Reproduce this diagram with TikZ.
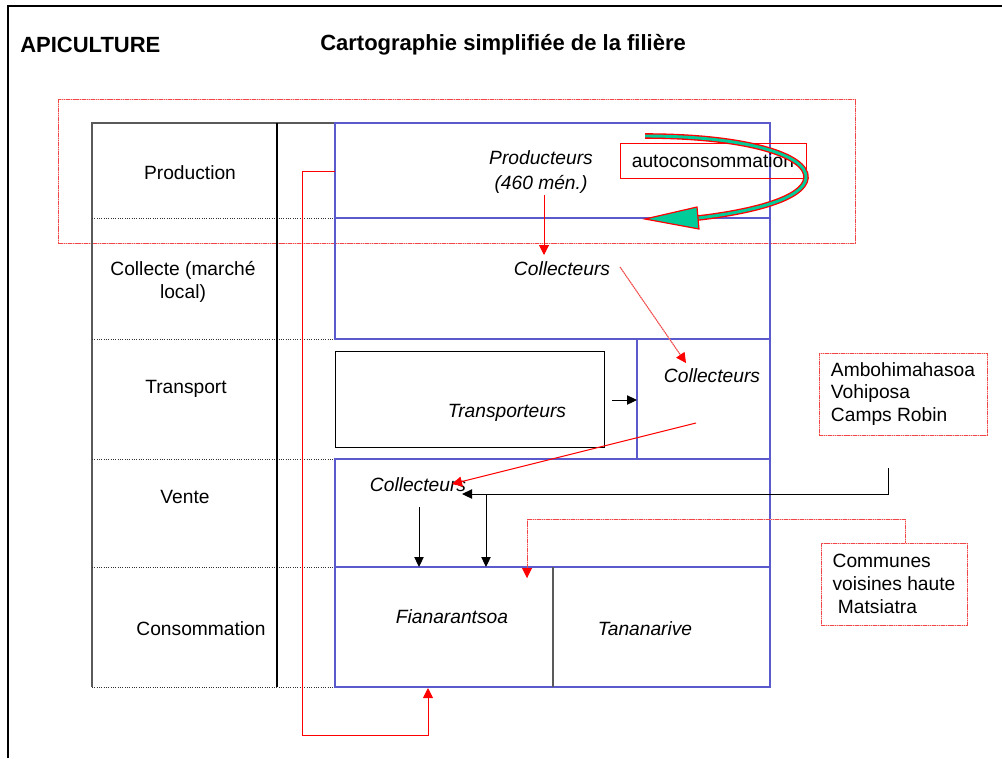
\documentclass[tikz,border=0pt]{standalone}
\usepackage{fontspec}
\setmainfont{Liberation Sans}
\usetikzlibrary{arrows.meta}
\definecolor{bl}{RGB}{90,90,205}
\definecolor{gr}{RGB}{0,204,153}
\definecolor{gline}{RGB}{90,90,90}
\definecolor{pinkred}{RGB}{240,70,70}
\definecolor{pinklight}{RGB}{250,185,185}
\tikzset{
  txt/.style={font=\fontsize{14.4}{17}\selectfont, inner sep=0pt, align=center},
  itx/.style={txt, font=\fontsize{14.4}{18.5}\selectfont\itshape},
  ttl/.style={font=\fontsize{16.5}{20}\selectfont\bfseries, inner sep=0pt, anchor=west},
  rowline/.style={densely dotted, line width=0.75pt, black!80},
  blueline/.style={bl, line width=1.1pt},
  reddot/.style={pinkred, dash pattern=on 1.2pt off 0.5pt, line width=0.7pt,
    preaction={draw=pinklight, solid, line width=0.7pt, -{}}},
  redbox/.style={draw=pinkred, dash pattern=on 1.2pt off 0.5pt, line width=0.7pt, txt,
    preaction={draw=pinklight, solid, line width=0.7pt}},
  rtip/.style={-{Triangle[length=7.5pt,width=7.5pt,color=red]}, red, line width=0.75pt},
  btip/.style={-{Triangle[length=7.5pt,width=7pt]}, black, line width=0.75pt},
}
\begin{document}
\begin{tikzpicture}[x=0.75pt,y=-0.75pt]
\useasboundingbox (0,0) rectangle (1002,758);
% outer frame
\draw[line width=1.6pt] (8,758) -- (8,6) -- (1002,6);
% titles
\node[ttl] (t1) at (20,45) {APICULTURE};
\node[ttl] (t2) at (320,45) {Cartographie simplifiée de la filière};
% big red dotted frame
\draw[reddot] (58,99) rectangle (855,243);
% left table
\draw[gline, line width=0.9pt] (92,687) -- (92,123) -- (460,123);
\foreach \yy in {218,339,459,567,687} \draw[rowline] (92,\yy) -- (460,\yy);
\draw[black, line width=0.9pt] (277,123) -- (277,687);
% blue structure
\draw[blueline] (335,123) rectangle (770,339);
\draw[blueline] (335,218) -- (770,218);
\draw[blueline] (637,339) rectangle (770,459);
\draw[blueline] (335,459) rectangle (770,687);
\draw[blueline] (335,567) -- (770,567);
\draw[gline, line width=1.1pt] (553,567) -- (553,687);
% transporteurs box
\draw[black, line width=0.75pt] (335,351) rectangle (604,447);
% row labels
\node[txt] (r1) at (190,173) {Production};
\node[txt] (r2) at (183,282) {Collecte (marché\\local)};
\node[txt] (r3) at (186,389) {Transport};
\node[txt] (r4) at (185,497) {Vente};
\node[txt] (r5) at (201,629) {Consommation};
% actors
\node[itx] (prod) at (541,172) {Producteurs\\(460 mén.)};
\node[itx] (col1) at (562,269) {Collecteurs};
\node[itx] (col2) at (712,376) {Collecteurs};
\node[itx] (trans) at (507,413) {Transporteurs};
\node[itx] (col3) at (418,485) {Collecteurs};
\node[itx] (fian) at (452,617) {Fianarantsoa};
\node[itx] (tana) at (645,629) {Tananarive};
% side boxes
\node[draw=red, line width=0.75pt, txt, minimum width=139.5pt, minimum height=26.25pt] (auto) at (713,160.5) {autoconsommation};
\node[redbox, align=left, minimum width=126pt, minimum height=61.5pt] (amb) at (903,394) {Ambohimahasoa\\Vohiposa\\Camps Robin};
\node[redbox, align=left, minimum width=109.5pt, minimum height=61.5pt] (com) at (894,584) {Communes\\voisines haute\\\ Matsiatra};
% green self-consumption arrow
\coordinate (g0) at (645,136);
\coordinate (g1) at (698,218);
\coordinate (gt) at (645,219);
\draw[red, line width=4.2pt] (g0) .. controls (745,136) and (808,155) .. (806,178) .. controls (804,199) and (750,212) .. (g1);
\draw[gr, line width=2.2pt] (g0) .. controls (745,136) and (808,155) .. (806,178) .. controls (804,199) and (750,212) .. (g1);
\filldraw[draw=red, fill=gr, line width=0.9pt] (gt) -- (697,207) -- (699,229) -- cycle;
% connectors
\coordinate (p1) at (544,195);
\coordinate (p2) at (544,255);
\draw[rtip] (p1) -- (p2);
\coordinate (c1a) at (620,267);
\coordinate (c1b) at (686,363);
\draw[rtip, reddot] (c1a) -- (c1b);
\coordinate (c2a) at (696,423);
\coordinate (c2b) at (452,484);
\draw[rtip] (c2a) -- (c2b);
\coordinate (ta) at (612,400);
\coordinate (tb) at (637,400);
\draw[btip] (ta) -- (tb);
\coordinate (a1) at (888,468);
\coordinate (a2) at (462,494);
\draw[btip] (a1) -- (888,494) -- (a2);
\coordinate (v1) at (419,507);
\coordinate (v2) at (419,567);
\draw[btip] (v1) -- (v2);
\coordinate (v3) at (486,494);
\coordinate (v4) at (486,567);
\draw[btip] (v3) -- (v4);
\draw[rtip, reddot] (com.north -| 905,0) -- (905,519) -- (527,519) -- (527,578);
\coordinate (s1) at (335,171);
\coordinate (s2) at (428,688);
\draw[rtip] (s1) -- (302,171) -- (302,735) -- (428,735) -- (s2);
\end{tikzpicture}
\end{document}
